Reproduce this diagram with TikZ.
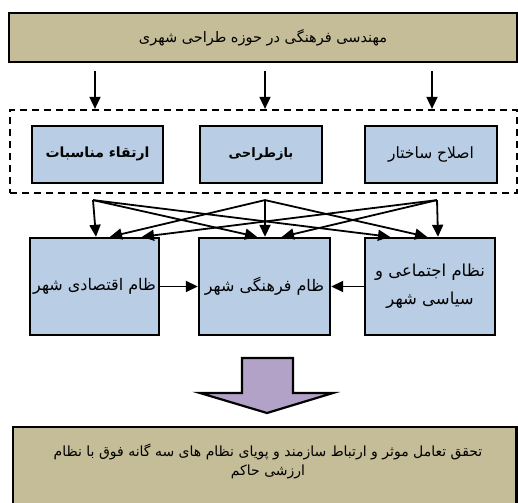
\documentclass[tikz,border=0pt]{standalone}
\usepackage{fontspec}
\usetikzlibrary{arrows.meta,calc}
\newfontfamily\fa[Script=Arabic]{DejaVu Sans}
\TeXXeTstate=1
\definecolor{tan}{HTML}{C4BD97}
\definecolor{lblue}{HTML}{B9CDE5}
\definecolor{lpurp}{HTML}{B3A2C7}
\tikzset{
  box/.style={draw=black,line width=2.4pt,inner sep=0pt,align=center,font=\fa},
  tanbox/.style={box,fill=tan},
  bluebox/.style={box,fill=lblue},
  arr/.style={line width=1.8pt,-{Triangle[length=12pt,width=11pt]}},
}
\begin{document}
\begin{tikzpicture}[x=1pt,y=-1pt]
\useasboundingbox (0,0) rectangle (518,502);
% top box
\node[tanbox,minimum width=508pt,minimum height=49pt,font=\fa\fontsize{14.5}{17}\selectfont] (top) at (263,37.5) {\beginR مهندسی فرهنگی در حوزه طراحی شهری\endR};
% dashed frame
\node[draw=black,line width=2.2pt,dash pattern=on 7pt off 5pt,minimum width=507pt,minimum height=83pt,inner sep=0pt] (frame) at (263.5,151.5) {};
% row 1
\node[bluebox,minimum width=131pt,minimum height=57pt,font=\fa\bfseries\fontsize{14}{17}\selectfont] (b1) at (97.5,154.5) {\raisebox{5pt}{\beginR ارتقاء مناسبات\endR}};
\node[bluebox,minimum width=122pt,minimum height=57pt,font=\fa\bfseries\fontsize{13}{17}\selectfont] (b2) at (261,154.5) {\beginR بازطراحی\endR};
\node[bluebox,minimum width=132pt,minimum height=57pt,font=\fa\fontsize{15.5}{17}\selectfont] (b3) at (431,154.5) {\beginR اصلاح ساختار\endR};
% top arrows
\coordinate (t1) at ($(top.south)+(-168,8)$);
\coordinate (t2) at ($(top.south)+(2,8)$);
\coordinate (t3) at ($(top.south)+(169,8)$);
\draw[arr] (t1) -- (t1 |- frame.north);
\draw[arr] (t2) -- (t2 |- frame.north);
\draw[arr] (t3) -- (t3 |- frame.north);
% row 2
\node[bluebox,minimum width=129pt,minimum height=97pt,font=\fa\fontsize{16}{24}\selectfont] (A) at (94.5,286.5) {\beginR ظام اقتصادی شهر\endR};
\node[bluebox,minimum width=131pt,minimum height=97pt,font=\fa\fontsize{16}{24}\selectfont] (B) at (264.5,286.5) {\beginR ظام فرهنگی شهر\endR};
\node[bluebox,minimum width=130pt,minimum height=97pt,font=\fa\fontsize{16.5}{28}\selectfont] (C) at (430,286.5) {\beginR نظام اجتماعی و\endR\\\beginR سیاسی شهر\endR};
% sources just below the frame
\coordinate (s1) at ($(frame.south)+(-170.5,6)$);
\coordinate (s2) at ($(frame.south)+(1.5,6)$);
\coordinate (s3) at ($(frame.south)+(173.5,6)$);
% cross arrows
\draw[arr] (s1) -- ([xshift=1.5pt]A.north);
\draw[arr] (s1) -- ([xshift=-7.5pt]B.north);
\draw[arr] (s1) -- ([xshift=-40pt]C.north);
\draw[arr] (s2) -- ([xshift=15.5pt]A.north);
\draw[arr] (s2) -- ([xshift=0.5pt]B.north);
\draw[arr] (s2) -- ([xshift=-3pt]C.north);
\draw[arr] (s3) -- ([xshift=47.5pt]A.north);
\draw[arr] (s3) -- ([xshift=17.5pt]B.north);
\draw[arr] (s3) -- ([xshift=8pt]C.north);
% horizontal arrows
\draw[arr] (A.east) -- (B.west);
\draw[arr] (C.west) -- (B.east);
% big arrow
\coordinate (ba) at (267,358);
\draw[line width=2.2pt,fill=lpurp,line join=miter]
  ($(ba)+(-25,0)$) -- ($(ba)+(26,0)$) -- ($(ba)+(26,35)$) -- ($(ba)+(66,35)$)
  -- ($(ba)+(0,55)$) -- ($(ba)+(-67,35)$) -- ($(ba)+(-25,35)$) -- cycle;
% bottom box
\draw[line width=2.4pt,fill=tan] (13,427) rectangle (516.5,515);
\node[font=\fa\fontsize{14}{19}\selectfont,align=center,inner sep=0pt] (bt) at (268,461) {\beginR تحقق تعامل موثر و ارتباط سازمند و پویای نظام های سه گانه فوق با نظام\endR\\\beginR ارزشی حاکم\endR};
\end{tikzpicture}
\end{document}
